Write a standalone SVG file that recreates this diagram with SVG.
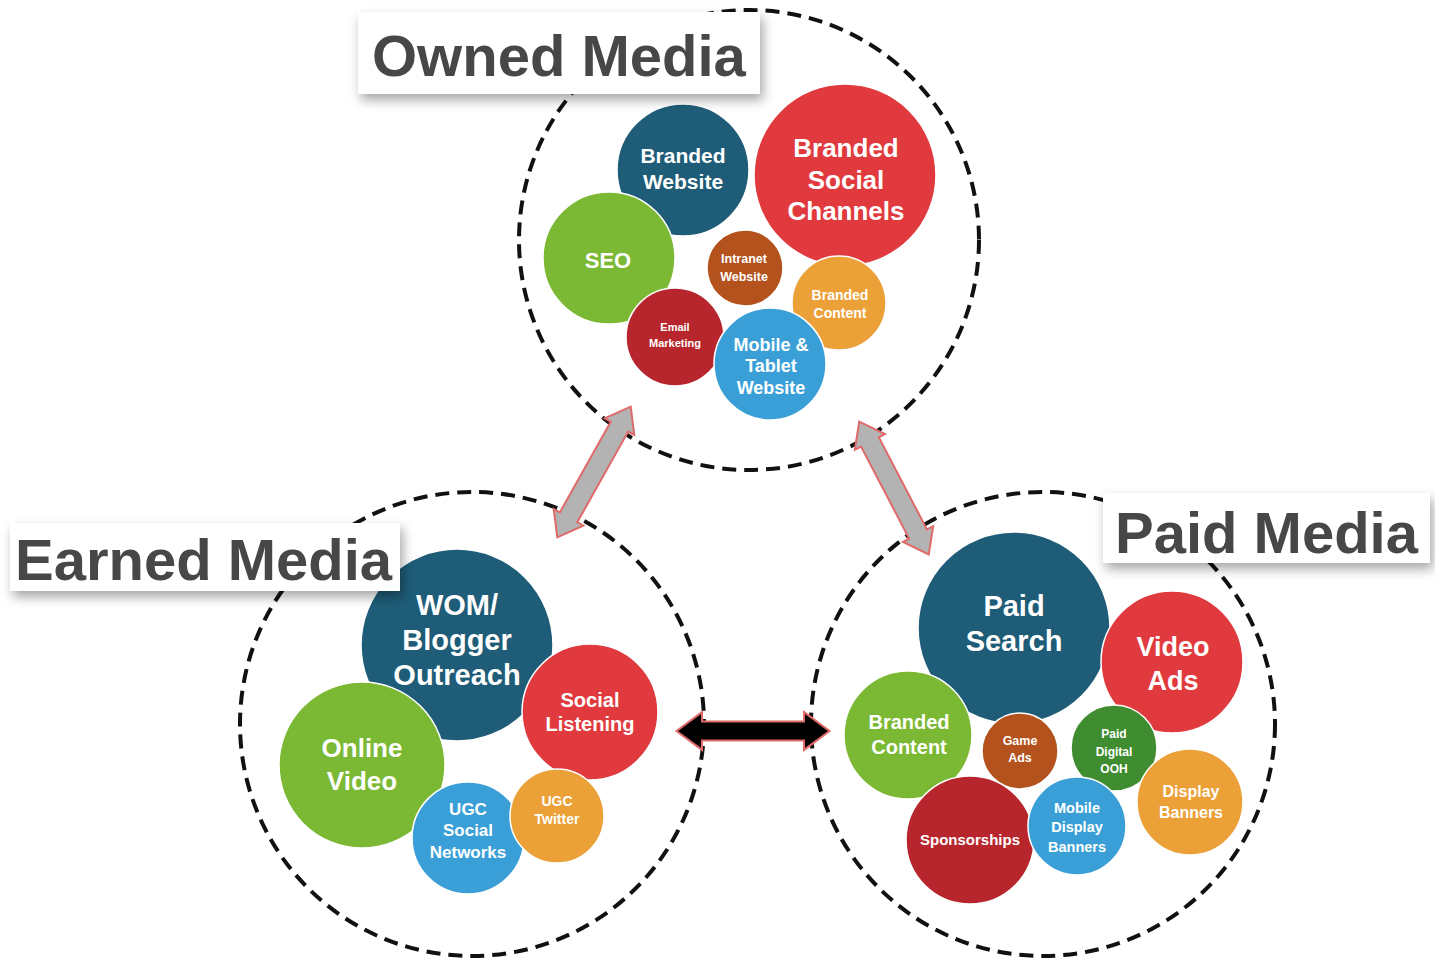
<svg xmlns="http://www.w3.org/2000/svg" width="1435" height="959" viewBox="0 0 1435 959">
<defs>
<filter id="sh" x="-10%" y="-20%" width="125%" height="160%">
<feDropShadow dx="3" dy="6" stdDeviation="6" flood-color="#000" flood-opacity="0.35"/>
</filter>
<polygon id="dbl" points="-75,0 -50,-18 -50,-9 50,-9 50,-18 75,0 50,18 50,9 -50,9 -50,18"/>
<polygon id="dblg" points="-75,0 -52,-17 -52,-10 52,-10 52,-17 75,0 52,17 52,10 -52,10 -52,17"/>
</defs>
<style>
.ring{fill:none;stroke:#111;stroke-width:4;stroke-dasharray:14 8}
.title{font-family:"Liberation Sans",Arial,sans-serif;font-weight:bold;font-size:58px;fill:#474747}
.box{fill:#fff;filter:url(#sh)}
.b{stroke:#fff;stroke-width:1.5}
.t{font-family:"Liberation Sans",Arial,sans-serif;font-weight:bold;fill:#fff;text-anchor:middle}
.teal{fill:#1e5c77}.red{fill:#e03a3e}.green{fill:#7bb833}.brown{fill:#b3521d}
.orange{fill:#eba038}.dred{fill:#b8262d}.blue{fill:#3a9fd6}.dgreen{fill:#3f8d30}
.ga{fill:#b3b3b3;stroke:#e06a6a;stroke-width:2}
.ba{fill:#000;stroke:#e06a6a;stroke-width:2}
</style>
<rect width="1435" height="959" fill="#fff"/>

<g id="rings">
<circle class="ring" cx="749" cy="240" r="230"/>
<circle class="ring" cx="472" cy="724" r="232"/>
<circle class="ring" cx="1043" cy="724" r="232"/>
</g>

<g id="owned">
<circle class="b teal" cx="683" cy="170" r="66"/>
<text class="t" font-size="21" x="683" y="163">Branded</text>
<text class="t" font-size="21" x="683" y="189">Website</text>
<circle class="b red" cx="845" cy="175" r="91"/>
<text class="t" font-size="26" x="846" y="157">Branded</text>
<text class="t" font-size="26" x="846" y="189">Social</text>
<text class="t" font-size="26" x="846" y="220">Channels</text>
<circle class="b green" cx="609" cy="258" r="66"/>
<text class="t" font-size="22" x="608" y="268">SEO</text>
<circle class="b brown" cx="745" cy="268" r="38"/>
<text class="t" font-size="12.5" x="744" y="263">Intranet</text>
<text class="t" font-size="12.5" x="744" y="281">Website</text>
<circle class="b orange" cx="839" cy="303" r="47"/>
<text class="t" font-size="14" x="840" y="300">Branded</text>
<text class="t" font-size="14" x="840" y="318">Content</text>
<circle class="b dred" cx="675" cy="337" r="49"/>
<text class="t" font-size="11" x="675" y="331">Email</text>
<text class="t" font-size="11" x="675" y="347">Marketing</text>
<circle class="b blue" cx="770" cy="364" r="56"/>
<text class="t" font-size="18" x="771" y="351">Mobile &amp;</text>
<text class="t" font-size="18" x="771" y="372">Tablet</text>
<text class="t" font-size="18" x="771" y="394">Website</text>
</g>

<g id="earned">
<circle class="b teal" cx="457" cy="645" r="96"/>
<text class="t" font-size="29" x="457" y="615">WOM/</text>
<text class="t" font-size="29" x="457" y="650">Blogger</text>
<text class="t" font-size="29" x="457" y="685">Outreach</text>
<circle class="b red" cx="590" cy="712" r="68"/>
<text class="t" font-size="20" x="590" y="707">Social</text>
<text class="t" font-size="20" x="590" y="731">Listening</text>
<circle class="b green" cx="362" cy="765" r="83"/>
<text class="t" font-size="26" x="362" y="757">Online</text>
<text class="t" font-size="26" x="362" y="790">Video</text>
<circle class="b blue" cx="468" cy="838" r="56"/>
<text class="t" font-size="17" x="468" y="815">UGC</text>
<text class="t" font-size="17" x="468" y="836">Social</text>
<text class="t" font-size="17" x="468" y="858">Networks</text>
<circle class="b orange" cx="557" cy="816" r="47"/>
<text class="t" font-size="14" x="557" y="806">UGC</text>
<text class="t" font-size="14" x="557" y="824">Twitter</text>
</g>

<g id="paid">
<circle class="b teal" cx="1014" cy="628" r="96"/>
<text class="t" font-size="29" x="1014" y="616">Paid</text>
<text class="t" font-size="29" x="1014" y="651">Search</text>
<circle class="b red" cx="1172" cy="662" r="71"/>
<text class="t" font-size="27" x="1173" y="656">Video</text>
<text class="t" font-size="27" x="1173" y="690">Ads</text>
<circle class="b green" cx="908" cy="735" r="64"/>
<text class="t" font-size="20" x="909" y="729">Branded</text>
<text class="t" font-size="20" x="909" y="754">Content</text>
<circle class="b brown" cx="1020" cy="751" r="38"/>
<text class="t" font-size="12.5" x="1020" y="745">Game</text>
<text class="t" font-size="12.5" x="1020" y="762">Ads</text>
<circle class="b dgreen" cx="1114" cy="748" r="43"/>
<text class="t" font-size="12" x="1114" y="738">Paid</text>
<text class="t" font-size="12" x="1114" y="756">Digital</text>
<text class="t" font-size="12" x="1114" y="773">OOH</text>
<circle class="b orange" cx="1190" cy="802" r="53"/>
<text class="t" font-size="16" x="1191" y="797">Display</text>
<text class="t" font-size="16" x="1191" y="818">Banners</text>
<circle class="b dred" cx="970" cy="840" r="64"/>
<text class="t" font-size="15" x="970" y="845">Sponsorships</text>
<circle class="b blue" cx="1077" cy="826" r="49"/>
<text class="t" font-size="14.5" x="1077" y="813">Mobile</text>
<text class="t" font-size="14.5" x="1077" y="832">Display</text>
<text class="t" font-size="14.5" x="1077" y="852">Banners</text>
</g>

<g id="connectors">
<use href="#dblg" class="ga" transform="translate(594,472) rotate(119.3)"/>
<use href="#dblg" class="ga" transform="translate(894,488) rotate(62.4)"/>
<use href="#dbl" class="ba" transform="translate(753,731) scale(1.02,1.05)"/>
</g>

<g id="label-owned">
<rect class="box" x="358" y="12" width="402" height="82"/>
<text class="title" x="372" y="76">Owned Media</text>
</g>
<g id="label-earned">
<rect class="box" x="10" y="523" width="390" height="68"/>
<text class="title" x="15" y="580">Earned Media</text>
</g>
<g id="label-paid">
<rect class="box" x="1103" y="493" width="327" height="70"/>
<text class="title" x="1115" y="553">Paid Media</text>
</g>
</svg>
